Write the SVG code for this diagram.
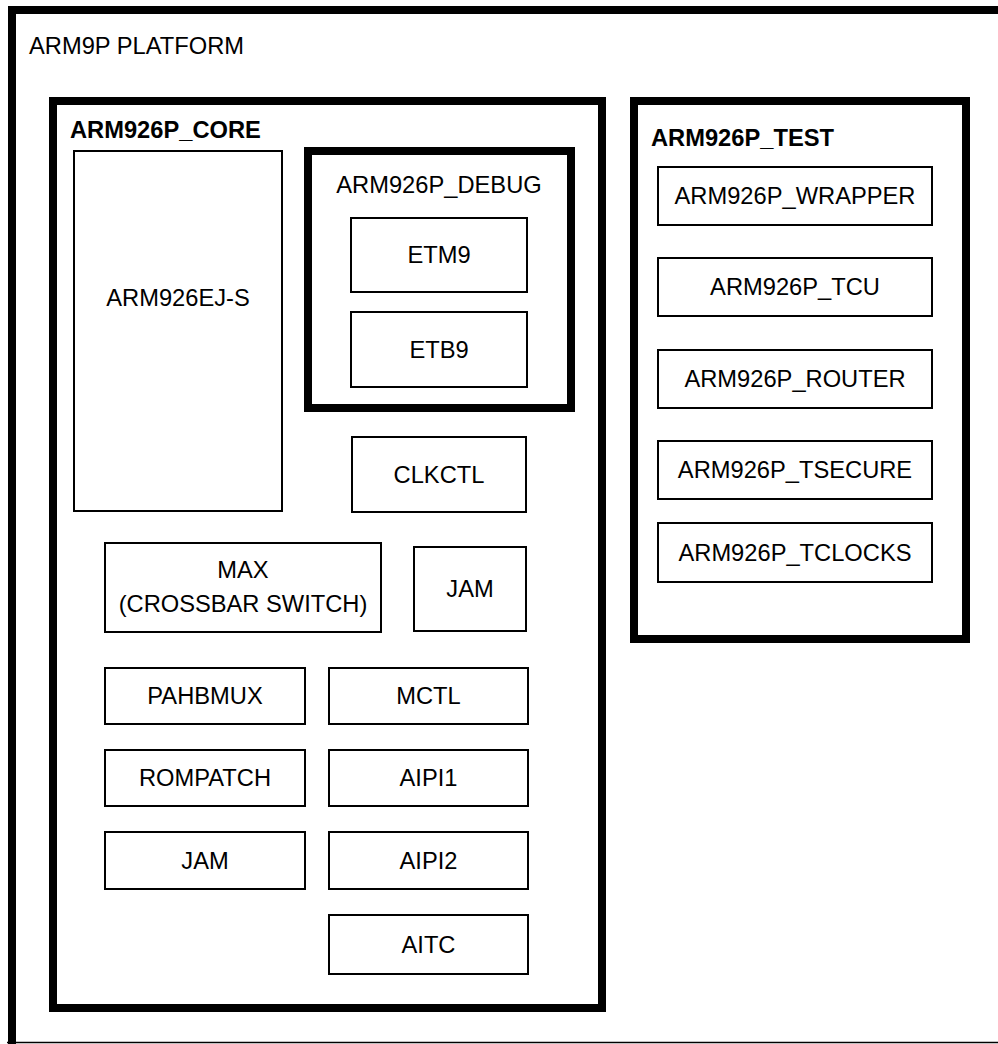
<svg xmlns="http://www.w3.org/2000/svg" width="998" height="1044" viewBox="0 0 998 1044">
<style>
text{font-family:"Liberation Sans",Arial,Helvetica,sans-serif;font-size:23.7px;fill:#000}
.c{text-anchor:middle}
.b{font-weight:bold}
.thick{fill:none;stroke:#000;stroke-width:8}
.thin{fill:#fff;stroke:#000;stroke-width:2}
</style>
<rect x="0" y="0" width="998" height="1044" fill="#fff"/>
<g id="platform">
<path d="M12,1044 V10 H1002" fill="none" stroke="#000" stroke-width="8"/>
<line x1="7" y1="1042.5" x2="998" y2="1042.5" stroke="#000" stroke-width="1.5"/>
<text x="29" y="54">ARM9P PLATFORM</text>
</g>
<g id="core">
<rect class="thick" x="53" y="101" width="549" height="907"/>
<text class="b" x="70" y="138">ARM926P_CORE</text>
</g>
<g id="arm926ejs"><rect class="thin" x="74" y="151" width="208" height="360"/><text class="c" x="178" y="306">ARM926EJ-S</text></g>
<g id="debug">
<rect class="thick" x="308" y="151" width="263" height="257"/>
<text class="c" x="439" y="193">ARM926P_DEBUG</text>
</g>
<g id="etm9"><rect class="thin" x="351" y="218" width="176" height="74"/><text class="c" x="439" y="263">ETM9</text></g>
<g id="etb9"><rect class="thin" x="351" y="312" width="176" height="75"/><text class="c" x="439" y="358">ETB9</text></g>
<g id="clkctl"><rect class="thin" x="352" y="437" width="174" height="75"/><text class="c" x="439" y="483">CLKCTL</text></g>
<g id="max"><rect class="thin" x="105" y="543" width="276" height="89"/><text class="c" x="243" y="578">MAX</text><text class="c" x="243" y="612">(CROSSBAR SWITCH)</text></g>
<g id="jam1"><rect class="thin" x="414" y="547" width="112" height="84"/><text class="c" x="470" y="597">JAM</text></g>
<g id="pahbmux"><rect class="thin" x="105" y="668" width="200" height="56"/><text class="c" x="205" y="704">PAHBMUX</text></g>
<g id="mctl"><rect class="thin" x="329" y="668" width="199" height="56"/><text class="c" x="428.5" y="704">MCTL</text></g>
<g id="rompatch"><rect class="thin" x="105" y="750" width="200" height="56"/><text class="c" x="205" y="786">ROMPATCH</text></g>
<g id="aipi1"><rect class="thin" x="329" y="750" width="199" height="56"/><text class="c" x="428.5" y="786">AIPI1</text></g>
<g id="jam2"><rect class="thin" x="105" y="832" width="200" height="57"/><text class="c" x="205" y="869">JAM</text></g>
<g id="aipi2"><rect class="thin" x="329" y="832" width="199" height="57"/><text class="c" x="428.5" y="869">AIPI2</text></g>
<g id="aitc"><rect class="thin" x="329" y="915" width="199" height="59"/><text class="c" x="428.5" y="953">AITC</text></g>
<g id="test">
<rect class="thick" x="634" y="101" width="332" height="538"/>
<text class="b" x="651" y="146">ARM926P_TEST</text>
</g>
<g id="wrapper"><rect class="thin" x="658" y="167" width="274" height="58"/><text class="c" x="795" y="204">ARM926P_WRAPPER</text></g>
<g id="tcu"><rect class="thin" x="658" y="258" width="274" height="58"/><text class="c" x="795" y="295">ARM926P_TCU</text></g>
<g id="router"><rect class="thin" x="658" y="350" width="274" height="58"/><text class="c" x="795" y="387">ARM926P_ROUTER</text></g>
<g id="tsecure"><rect class="thin" x="658" y="441" width="274" height="58"/><text class="c" x="795" y="478">ARM926P_TSECURE</text></g>
<g id="tclocks"><rect class="thin" x="658" y="523" width="274" height="59"/><text class="c" x="795" y="561">ARM926P_TCLOCKS</text></g>
<g id="connectors"></g>
</svg>
